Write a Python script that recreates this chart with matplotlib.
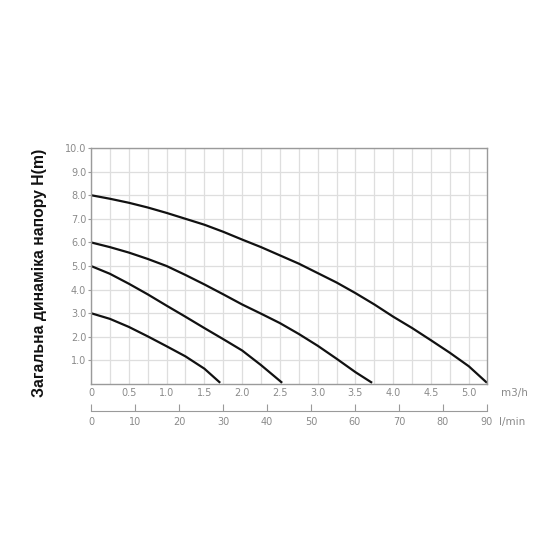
import numpy as np
import matplotlib
matplotlib.use("Agg")
import matplotlib.pyplot as plt

# pump curves, flow in m3/h, head in m
flow_8 = [0, 0.25, 0.5, 0.75, 1.0, 1.25, 1.5, 1.75, 2.0, 2.25, 2.5, 2.75, 3.0,
          3.25, 3.5, 3.75, 4.0, 4.25, 4.5, 4.75, 5.0, 5.24]
head_8 = [8.0, 7.85, 7.68, 7.48, 7.25, 7.0, 6.75, 6.45, 6.12, 5.8, 5.45, 5.1, 4.7,
          4.3, 3.85, 3.37, 2.85, 2.37, 1.85, 1.32, 0.75, 0.05]

flow_6 = [0, 0.25, 0.5, 0.75, 1.0, 1.25, 1.5, 1.75, 2.0, 2.25, 2.5, 2.75, 3.0,
          3.25, 3.5, 3.72]
head_6 = [6.0, 5.8, 5.57, 5.3, 5.0, 4.62, 4.22, 3.8, 3.37, 2.98, 2.58, 2.12, 1.62,
          1.07, 0.5, 0.05]

flow_5 = [0, 0.25, 0.5, 0.75, 1.0, 1.25, 1.5, 1.75, 2.0, 2.25, 2.53]
head_5 = [5.0, 4.67, 4.25, 3.8, 3.32, 2.85, 2.37, 1.9, 1.42, 0.8, 0.05]

flow_3 = [0, 0.25, 0.5, 0.75, 1.0, 1.25, 1.5, 1.71]
head_3 = [3.0, 2.76, 2.42, 2.02, 1.6, 1.17, 0.65, 0.05]

curves = [(flow_8, head_8), (flow_6, head_6), (flow_5, head_5), (flow_3, head_3)]

m3h_ticks = [0, 0.5, 1.0, 1.5, 2.0, 2.5, 3.0, 3.5, 4.0, 4.5, 5.0]
m3h_labels = ["0", "0.5", "1.0", "1.5", "2.0", "2.5", "3.0", "3.5", "4.0", "4.5", "5.0"]
head_ticks = [1, 2, 3, 4, 5, 6, 7, 8, 9, 10]
lmin_ticks = [0, 10, 20, 30, 40, 50, 60, 70, 80, 90]

grey = "#8a8a8a"
grid_col = "#dedede"

fig = plt.figure(figsize=(5.6, 5.6), dpi=100)
ax = fig.add_axes([0.1625, 0.3143, 0.7071, 0.4214])

for fl, hd in curves:
    ax.plot(fl, hd, color="#111111", lw=1.6, solid_capstyle="butt", solid_joinstyle="round")

ax.set_xlim(0, 5.24)
ax.set_ylim(0, 10)
ax.set_xticks(m3h_ticks)
ax.set_xticklabels(m3h_labels)
ax.set_xticks(np.arange(0.25, 5.24, 0.5), minor=True)
ax.set_yticks(head_ticks)
ax.set_yticklabels([f"{v:.1f}" for v in head_ticks])
ax.grid(True, which="both", axis="x", color=grid_col, lw=0.9)
ax.grid(True, which="major", axis="y", color=grid_col, lw=0.9)
ax.set_axisbelow(True)
ax.tick_params(axis="x", which="both", length=0, labelsize=7, labelcolor=grey, pad=3)
ax.tick_params(axis="y", length=2, color="#9a9a9a", labelsize=7, labelcolor=grey, pad=1.5)
for s in ax.spines.values():
    s.set_color("#9a9a9a")
    s.set_linewidth(1.0)

ax.text(1.035, -0.015, "m3/h", transform=ax.transAxes, fontsize=7.5, color=grey,
        ha="left", va="top")

ax.set_ylabel("Загальна динаміка напору H(m)", fontsize=11.3, family="Liberation Sans",
              fontweight="bold", color="#111111", labelpad=0)
ax.yaxis.set_label_coords(-0.111, 0.47)

# second flow axis in l/min
ax2 = fig.add_axes([0.1625, 0.266, 0.7071, 0.0001])
ax2.set_xlim(0, 90)
ax2.set_ylim(0, 1)
ax2.set_xticks(lmin_ticks)
ax2.set_yticks([])
for side in ["top", "left", "right"]:
    ax2.spines[side].set_visible(False)
ax2.spines["bottom"].set_color("#9a9a9a")
ax2.patch.set_visible(False)
ax2.tick_params(axis="x", direction="in", length=5, color="#9a9a9a", labelsize=7,
                labelcolor=grey, pad=4)
ax2.annotate("l/min", xy=(1.0, 0), xycoords="axes fraction", xytext=(9, -4),
             textcoords="offset points", fontsize=7.5, color=grey, ha="left", va="top")

fig.savefig("out.png", dpi=100)
